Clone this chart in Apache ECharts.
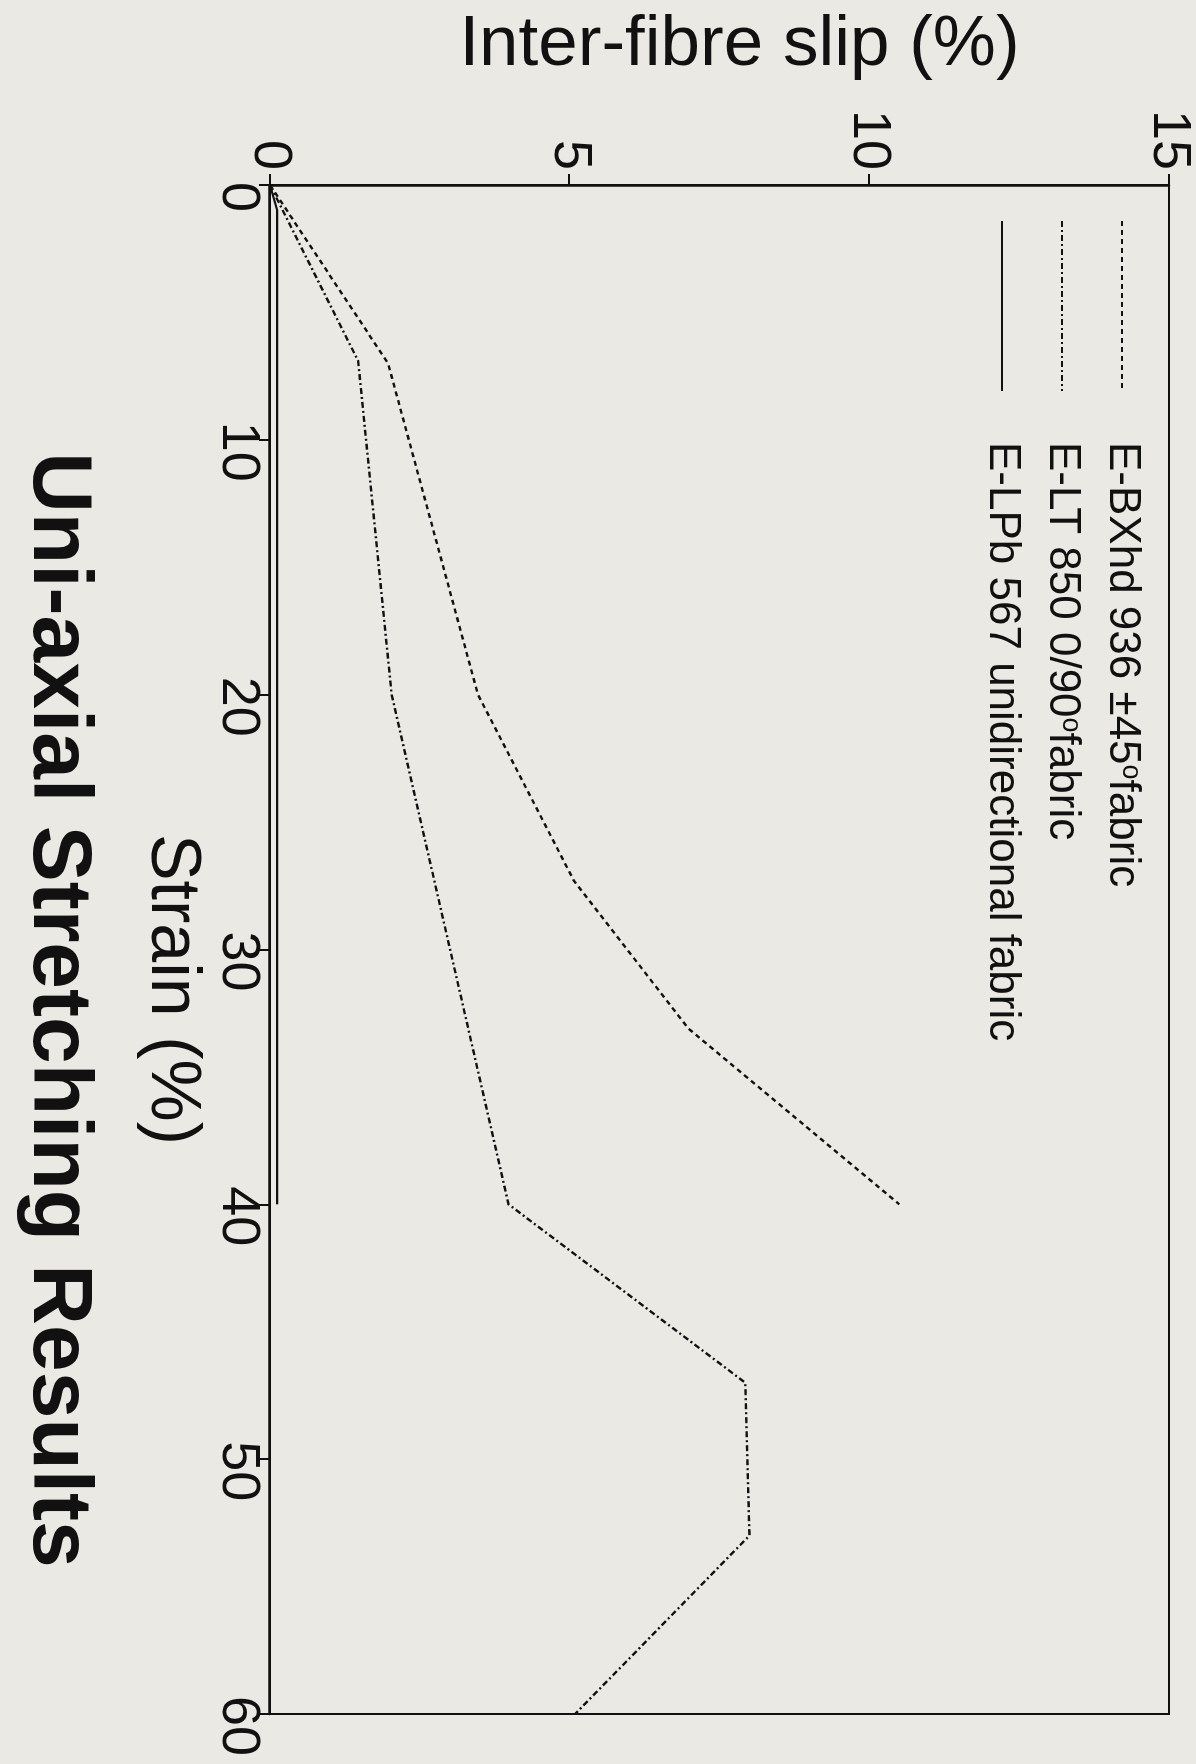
<!DOCTYPE html>
<html>
<head>
<meta charset="utf-8">
<script src="https://cdn.jsdelivr.net/npm/echarts@6/dist/echarts.min.js"></script>
<style>
  html, body { margin: 0; padding: 0; width: 1196px; height: 1764px; overflow: hidden; background: #ebe9e4; }
  /* The chart is laid out landscape and turned a quarter clockwise onto the portrait page */
  #chart { position: absolute; left: 0; top: 0; width: 1764px; height: 1196px;
           transform-origin: 0 0; transform: translate(1196px, 0) rotate(90deg); }
</style>
</head>
<body>
<div id="chart"></div>
<script>
// Strain (%) vs inter-fibre slip (%) for three glass fabrics
const bxhdName = 'E-BXhd 936 ±45°fabric';
const bxhdStrain = [0, 7, 20, 27.3, 33.1, 40];
const bxhdSlip   = [0, 1.97, 3.47, 5.07, 6.98, 10.5];

const ltName = 'E-LT 850 0/90°fabric';
const ltStrain = [0, 6.9, 20, 40, 47, 53, 60];
const ltSlip   = [0, 1.47, 2.03, 3.98, 7.93, 8.0, 5.09];

const lpbName = 'E-LPb 567 unidirectional fabric';
const lpbStrain = [0, 1, 40];
const lpbSlip   = [0, 0.12, 0.12];

const strainRange = [0, 60, 10];
const slipRange = [0, 15, 5];

const chartTitle = 'Uni-axial Stretching Results';
const strainLabel = 'Strain (%)';
const slipLabel = 'Inter-fibre slip (%)';

const pairs = (xs, ys) => xs.map((x, i) => [x, ys[i]]);
const ink = '#111';

const chart = echarts.init(document.getElementById('chart'));

chart.setOption({
  backgroundColor: '#ebe9e4',
  animation: false,
  textStyle: { fontFamily: 'Liberation Sans', color: ink },
  title: {
    text: chartTitle,
    left: 1010,
    top: 1096,
    textAlign: 'center',
    padding: 0,
    textStyle: { fontFamily: 'Liberation Sans', fontSize: 84, fontWeight: 'bold', lineHeight: 85, color: ink }
  },
  legend: {
    orient: 'vertical',
    left: 220,
    top: 52,
    align: 'left',
    itemWidth: 170,
    itemHeight: 4,
    itemGap: 16,
    padding: 0,
    data: [bxhdName, ltName, lpbName],
    itemStyle: { color: 'rgba(0,0,0,0)', borderWidth: 0, opacity: 0 },
    formatter: name => name.replace('°', '{sup|o}'),
    textStyle: {
      fontFamily: 'Liberation Sans', fontSize: 44, lineHeight: 44, color: ink,
      padding: [0, 0, 0, 46],
      rich: { sup: { fontFamily: 'Liberation Sans', fontSize: 27, lineHeight: 27, color: ink, verticalAlign: 'top' } }
    }
  },
  grid: {
    left: 185, right: 50, top: 27, bottom: 270,
    show: true, borderColor: ink, borderWidth: 2, backgroundColor: 'transparent'
  },
  xAxis: {
    type: 'value',
    min: strainRange[0], max: strainRange[1], interval: strainRange[2],
    name: strainLabel,
    nameLocation: 'middle',
    nameGap: 54,
    nameTextStyle: { fontFamily: 'Liberation Sans', fontSize: 70, color: ink, padding: [0, 0, 0, 80] },
    axisLine: { show: true, lineStyle: { color: ink, width: 2.5 } },
    axisTick: { show: true, inside: false, length: 11, lineStyle: { color: ink, width: 2 } },
    axisLabel: { fontFamily: 'Liberation Sans', fontSize: 54, color: ink, margin: 5, padding: [0, 0, 0, 24] },
    splitLine: { show: false }
  },
  yAxis: {
    type: 'value',
    min: slipRange[0], max: slipRange[1], interval: slipRange[2],
    name: slipLabel,
    nameLocation: 'middle',
    nameRotate: 90,
    nameGap: 104,
    nameTextStyle: { fontFamily: 'Liberation Sans', fontSize: 71, color: ink, padding: [0, 0, 0, 40] },
    axisLine: { show: true, lineStyle: { color: ink, width: 2.5 } },
    axisTick: { show: true, inside: false, length: 11, lineStyle: { color: ink, width: 2 } },
    axisLabel: { fontFamily: 'Liberation Sans', fontSize: 54, color: ink, margin: 15 },
    splitLine: { show: false }
  },
  series: [
    {
      name: bxhdName, type: 'line', symbol: 'none', showSymbol: false,
      data: pairs(bxhdStrain, bxhdSlip),
      lineStyle: { color: ink, width: 2.4, type: [5, 4] }
    },
    {
      name: ltName, type: 'line', symbol: 'none', showSymbol: false,
      data: pairs(ltStrain, ltSlip),
      lineStyle: { color: ink, width: 2.4, type: [6, 3, 2, 3] }
    },
    {
      name: lpbName, type: 'line', symbol: 'none', showSymbol: false,
      data: pairs(lpbStrain, lpbSlip),
      lineStyle: { color: ink, width: 2.2, type: 'solid' }
    }
  ]
});
</script>
</body>
</html>
